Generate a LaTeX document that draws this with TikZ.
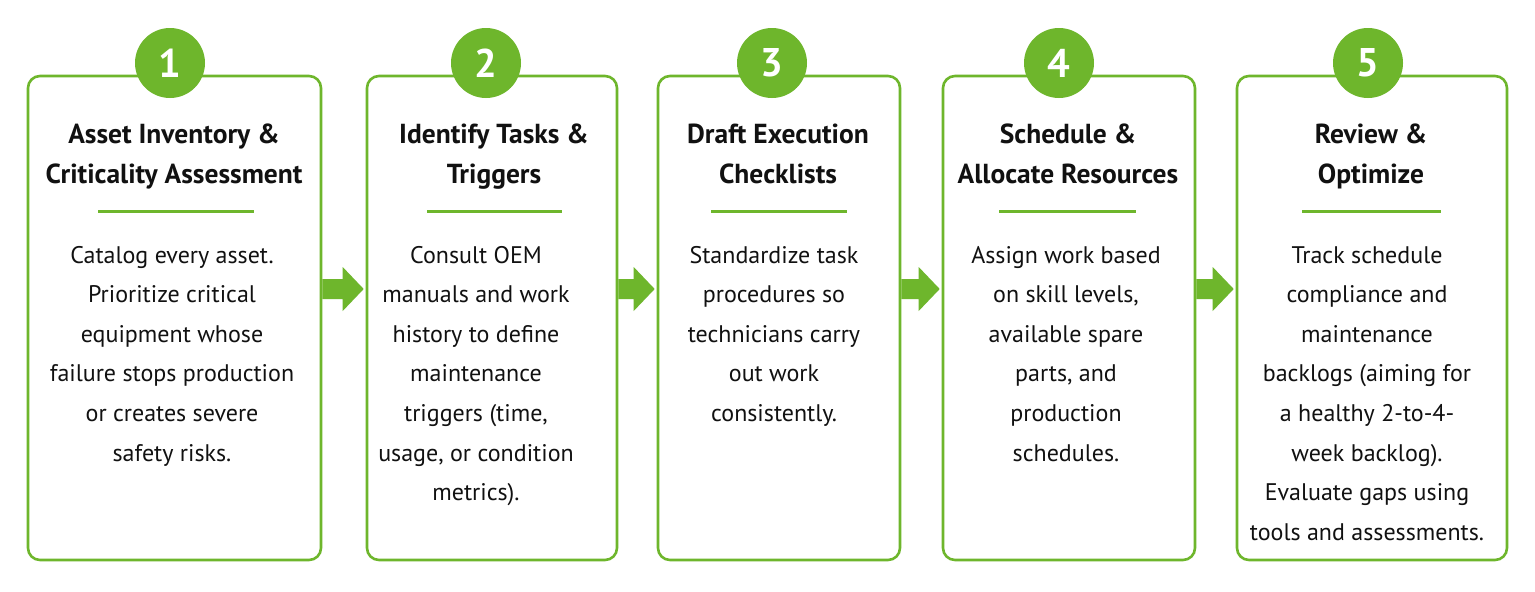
\documentclass[tikz,border=0pt]{standalone}
\usepackage{fontspec}
\setmainfont{PT Sans}
\usetikzlibrary{calc}
\definecolor{grn}{RGB}{110,182,44}
\definecolor{ink}{RGB}{17,17,17}
\begin{document}
\begin{tikzpicture}[x=1pt,y=-1pt,
  stepbox/.style={draw=grn, line width=2.6pt, rounded corners=12pt, minimum height=484pt, inner sep=0pt},
  num/.style={circle, fill=grn, minimum size=70pt, inner sep=0pt, text=white, font=\fontsize{40}{40}\bfseries\selectfont},
  head/.style={align=center, font=\fontsize{27.5}{40}\bfseries\selectfont, text=ink, anchor=base, inner sep=0pt},
  body/.style={align=center, font=\fontsize{24}{39.6}\selectfont, text=ink, anchor=base, inner sep=0pt},
  sepline/.style={draw=grn, line width=3pt},
  arrowfill/.style={fill=grn}]
\fill[white] (0,0) rectangle (1535,592);
\useasboundingbox (0,0) rectangle (1535,592);

% boxes
\node[stepbox, minimum width=293pt] (b1) at (174.5,318) {};
\node[stepbox, minimum width=250pt] (b2) at (492,318) {};
\node[stepbox, minimum width=242pt] (b3) at (779,318) {};
\node[stepbox, minimum width=252pt] (b4) at (1069,318) {};
\node[stepbox, minimum width=270pt] (b5) at (1372,318) {};

% number circles
\node[num] (n1) at (170,63) {1};
\node[num] (n2) at (486,63) {2};
\node[num] (n3) at (772,63) {3};
\node[num] (n4) at (1059,63) {4};
\node[num] (n5) at (1368,63) {5};

% headings (anchor base = baseline of last line)
\node[head] (h1) at (174,183) {Asset Inventory \&\\Criticality Assessment};
\node[head] (h2) at (494,183) {Identify Tasks \&\\Triggers};
\node[head] (h3) at (778,183) {Draft Execution\\Checklists};
\node[head] (h4) at (1068,183) {Schedule \&\\Allocate Resources};
\node[head] (h5) at (1371,183) {Review \&\\Optimize};

% separators
\draw[sepline] (98,211) -- (254,211);
\draw[sepline] (427,211) -- (562,211);
\draw[sepline] (711,211) -- (847,211);
\draw[sepline] (999,211) -- (1136,211);
\draw[sepline] (1302,211) -- (1441,211);

% bodies (anchor base = baseline of last line)
\node[body] (t1) at (172,461) {Catalog every asset.\\Prioritize critical\\equipment whose\\failure stops production\\or creates severe\\safety risks.};
\node[body] (t2) at (476,500.6) {Consult OEM\\manuals and work\\history to define\\maintenance\\triggers (time,\\usage, or condition\\metrics).};
\node[body] (t3) at (774,421.4) {Standardize task\\procedures so\\technicians carry\\out work\\consistently.};
\node[body] (t4) at (1066,461) {Assign work based\\on skill levels,\\available spare\\parts, and\\production\\schedules.};
\node[body] (t5) at (1367,540.2) {Track schedule\\compliance and\\maintenance\\backlogs (aiming for\\a healthy 2-to-4-\\week backlog).\\Evaluate gaps using\\tools and assessments.};

% arrows
\foreach \a/\b in {b1/b2, b2/b3, b3/b4, b4/b5}{
  \coordinate (s) at ($(\a.east)+(0,-29)$);
  \coordinate (e) at ($(\b.west)+(-2,-29)$);
  \fill[arrowfill] (s) ++(0,-10) -- ($(e)+(-21,-10)$) -- ($(e)+(-21,-22)$) -- (e) -- ($(e)+(-21,22)$) -- ($(e)+(-21,10)$) -- ($(s)+(0,10)$) -- cycle;
}
\end{tikzpicture}
\end{document}
